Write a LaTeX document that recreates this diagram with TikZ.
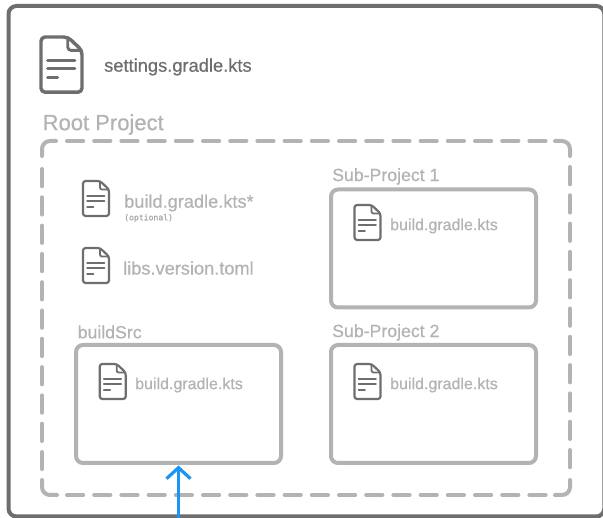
\documentclass[tikz,border=0pt]{standalone}
\usepackage{fontspec}
\setmainfont{Liberation Sans}
\setmonofont{DejaVu Sans Mono}
\newfontfamily\medfont[FakeBold=0.5]{Liberation Sans}
\newfontfamily\optfont[FakeBold=0.4]{DejaVu Sans Mono}
\usetikzlibrary{arrows.meta}
\definecolor{dk}{HTML}{6E6E6E}
\definecolor{lt}{HTML}{B3B3B3}
\definecolor{blu}{HTML}{1A94F5}
\tikzset{
  x=1pt,y=-1pt,
  frame/.style={draw=dk,line width=4pt,rounded corners=8pt},
  zoneline/.style={draw=lt,line width=4pt,line cap=round},
  zonecorner/.style={zoneline,rounded corners=8pt},
  hdash/.style={zoneline,dash pattern=on 16.2pt off 11pt},
  vdash/.style={zoneline,dash pattern=on 17.3pt off 11pt},
  box/.style={draw=lt,line width=4pt,rounded corners=7pt,minimum width=205pt,minimum height=118pt,inner sep=0pt,outer sep=0pt,anchor=north west},
  flbl/.style={text=lt,inner sep=0pt,anchor=west,font=\medfont\fontsize{16}{16}\selectfont},
  toplbl/.style={text=lt,inner sep=0pt,anchor=west,font=\medfont\fontsize{18.2}{18}\selectfont},
  sublbl/.style={text=lt,inner sep=0pt,anchor=west,font=\medfont\fontsize{17.7}{18}\selectfont},
  pics/docicon/.style={code={
    \draw[dk,line width=#1*2.2pt,rounded corners=#1*2.6pt,line join=round] (0,0) -- (0,35) -- (26,35) -- (26,8.5) -- (17,0) -- cycle;
    \draw[dk,line width=#1*1.8pt,rounded corners=#1*2pt,line join=round] (17,0) -- (17,8.5) -- (26,8.5);
    \draw[dk,line width=#1*1.9pt,line cap=round] (4.2,14.7) -- (21.5,14.7) (4.2,20) -- (21.5,20) (4.2,25.6) -- (10.5,25.6);
  }}
}
\begin{document}
\begin{tikzpicture}
\useasboundingbox (0,0) rectangle (603,518);
\fill[white] (0,0) rectangle (603,518);
\draw[frame] (8.5,6) rectangle (604.3,516.5);
% dashed root project zone
\draw[zonecorner] (42,156) -- (42,141) -- (56,141);
\draw[zonecorner] (555,141) -- (570,141) -- (570,156);
\draw[zonecorner] (570,480) -- (570,495) -- (555,495);
\draw[zonecorner] (57,495) -- (42,495) -- (42,480);
\draw[hdash] (67,141) -- (549,141);
\draw[hdash] (67,495) -- (549,495);
\draw[vdash] (42,169) -- (42,469);
\draw[vdash] (570,167) -- (570,475);
% boxes
\node[box] (sub1) at (331,189.5) {};
\node[box] (sub2) at (331,345) {};
\node[box] (src) at (76,345) {};
% icons
\pic[scale=1.577] at (41,37) {docicon=1.577};
\pic at (83,181) {docicon=1};
\pic at (83,248) {docicon=1};
\pic at (354.5,205) {docicon=1};
\pic at (354.5,364) {docicon=1};
\pic at (99.7,364) {docicon=1};
% labels
\node[inner sep=0pt,anchor=west,text=dk,font=\medfont\fontsize{18.3}{18}\selectfont] (settings) at (104,67) {settings.gradle.kts};
\node[inner sep=0pt,anchor=west,text=lt,font=\medfont\fontsize{22}{22}\selectfont] (root) at (42.5,124.5) {Root Project};
\node[toplbl] (rootbuild) at (124,203) {build.gradle.kts*};
\node[inner sep=0pt,anchor=west,text=lt!80!dk,font=\optfont\fontsize{8.1}{8}\selectfont] (opt) at (124,218) {(optional)};
\node[toplbl] (libs) at (123,268) {libs.version.toml};
\node[flbl] (b1) at (390,226) {build.gradle.kts};
\node[flbl] (b2) at (390,385) {build.gradle.kts};
\node[flbl] (b3) at (135,385) {build.gradle.kts};
\node[sublbl] (s1) at (332,176.5) {Sub-Project 1};
\node[sublbl] (s2) at (332,332.5) {Sub-Project 2};
\node[sublbl] (bs) at (77.5,332) {buildSrc};
% arrow
\coordinate (foot) at (src.south |- 0,518);
\draw[blu,line width=3.2pt,-{Straight Barb[length=11pt,width=24pt,line width=3.2pt]},shorten >=2.5pt] (foot) -- (src.south);
\end{tikzpicture}
\end{document}
